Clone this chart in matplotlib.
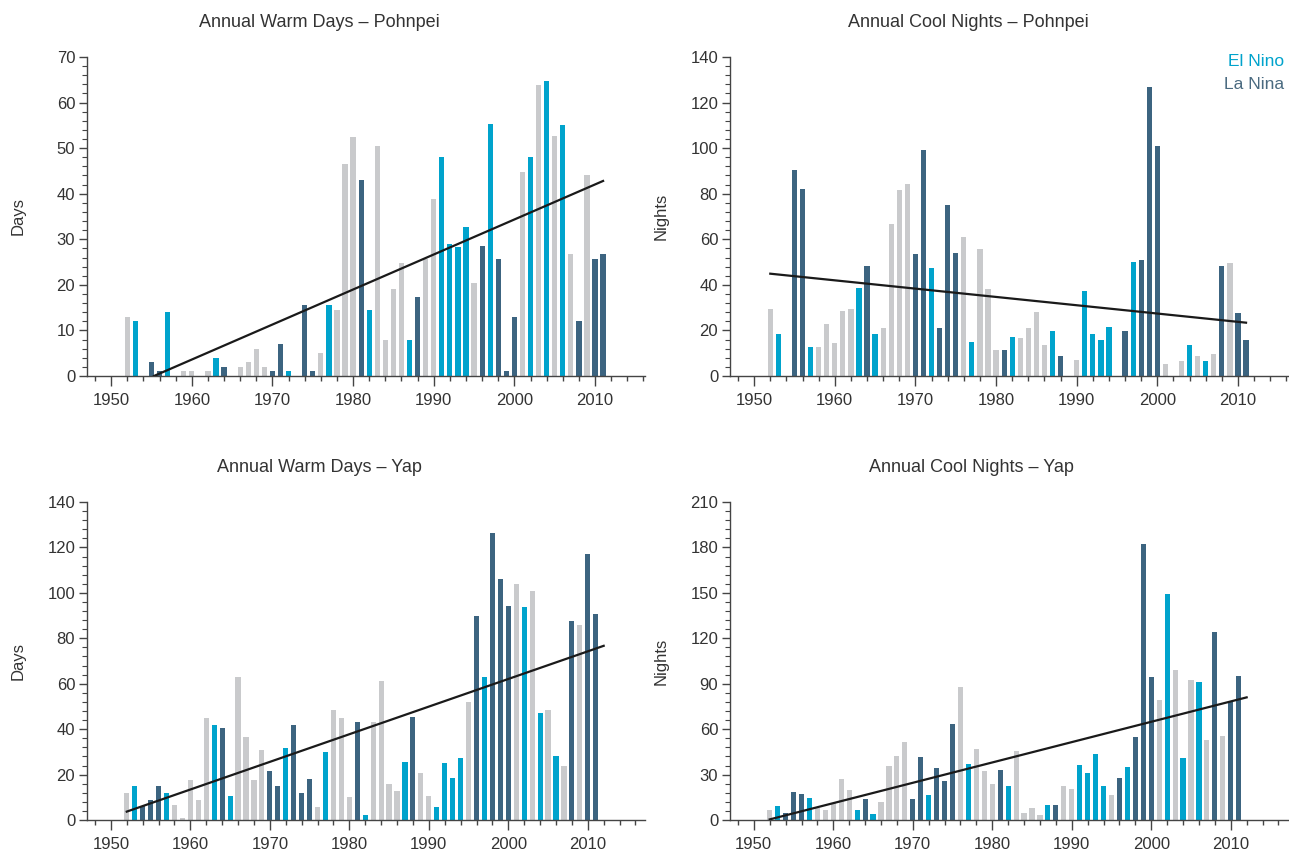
import matplotlib
matplotlib.use("Agg")
import matplotlib.pyplot as plt
from matplotlib.ticker import MultipleLocator
import numpy as np

plt.rcParams['font.family'] = ['Liberation Sans', 'DejaVu Sans']

years = list(range(1951, 2012))

# N = neutral, E = El Nino, L = La Nina
enso = ("N N E L L L E N N N N N E L E N N N N L L E L L L N E N N N "
        "L E N N N N E L N N E E E E N L E L L L N E N E N E N L N L L").split()

warm_pohnpei = [0, 13, 12, 0, 3, 1, 14, 0, 1, 1, 0, 1, 4, 2, 0, 2, 3, 6, 2, 1,
                7, 1, 0, 15.5, 1, 5, 15.5, 14.5, 46.5, 52.5, 43, 14.5, 50.5, 8, 19, 24.7, 8, 17.3, 25.6, 38.8,
                48, 29, 28.2, 32.6, 20.3, 28.5, 55.3, 25.6, 1, 13, 44.8, 48, 63.8, 64.8, 52.6, 55, 26.8, 12, 44, 25.7,
                26.8]

cool_pohnpei = [0, 29.6, 18.6, 0, 90.3, 82.2, 12.7, 12.7, 22.7, 14.6, 28.5, 29.6, 38.5, 48.3, 18.6, 20.9, 66.9, 81.5, 84.4, 53.4,
                99.2, 47.5, 21.2, 75.1, 53.8, 61, 14.9, 55.6, 38, 11.3, 11.6, 17.1, 16.8, 21.2, 28.1, 13.5, 19.8, 8.6, 0, 6.9,
                37.3, 18.3, 15.7, 21.5, 0, 19.8, 50, 51.1, 126.9, 100.8, 5.4, 0, 6.6, 13.5, 8.8, 6.6, 9.5, 48.3, 49.7, 27.5,
                15.8]

warm_yap = [0, 11.7, 14.8, 6.3, 8.8, 14.8, 11.7, 6.7, 0.7, 17.6, 8.8, 44.8, 41.8, 40.5, 10.7, 62.8, 36.4, 17.6, 30.8, 21.7,
            14.8, 31.5, 41.8, 11.7, 18, 5.6, 29.8, 48.6, 44.8, 10, 43.3, 2.3, 43, 61, 15.8, 12.9, 25.7, 45.2, 20.7, 10.6,
            5.7, 25.1, 18.3, 27.1, 52, 89.9, 62.8, 126.3, 106.3, 94.1, 103.8, 93.8, 100.9, 46.9, 48.3, 28, 24, 87.7, 85.8, 117.1,
            90.7]

cool_yap = [0, 6.6, 9.3, 4.9, 18.8, 17, 14.8, 7.7, 6.6, 11.5, 27.2, 19.9, 6.6, 13.7, 3.8, 11.7, 36, 42.4, 51.4, 13.7,
            41.5, 16.6, 34.2, 26, 63.6, 87.9, 36.9, 46.8, 32.5, 23.6, 33.1, 22.5, 45.9, 4.4, 8.2, 3.3, 9.9, 9.9, 22.5, 20.3,
            36.4, 31.3, 43.7, 22.5, 16.6, 28, 34.9, 54.8, 182.6, 94.3, 79, 149.5, 99.4, 40.8, 92.3, 91.2, 53, 124.3, 55.6, 77.7,
            94.9]

# trend lines: (year start, value start, year end, value end)
trend_warm_pohnpei = (1955.3, 0, 2011, 42.8)
trend_cool_pohnpei = (1952, 44.9, 2011, 23.4)
trend_warm_yap = (1952, 3.7, 2012, 76.7)
trend_cool_yap = (1952, 0.4, 2012, 81)

colors = {"N": "#c9cacc", "E": "#00a3cc", "L": "#3c6480"}
txt = "#333333"

fig = plt.figure(figsize=(12.89, 8.61), dpi=100)

W = 0.4329
panels = [
    ([0.0675, 0.5633, W, 0.3705], warm_pohnpei, trend_warm_pohnpei, 70, 10, 2016.2,
     "Annual Warm Days \u2013 Pohnpei", (0.2475, 0.9738), "Days", (0.014, 0.749)),
    ([0.5663, 0.5633, W, 0.3705], cool_pohnpei, trend_cool_pohnpei, 140, 20, 2016.2,
     "Annual Cool Nights \u2013 Pohnpei", (0.751, 0.9738), "Nights", (0.513, 0.749)),
    ([0.0675, 0.0476, W, 0.3693], warm_yap, trend_warm_yap, 140, 20, 2017.2,
     "Annual Warm Days \u2013 Yap", (0.248, 0.4570), "Days", (0.014, 0.232)),
    ([0.5663, 0.0476, W, 0.3693], cool_yap, trend_cool_yap, 210, 30, 2017.2,
     "Annual Cool Nights \u2013 Yap", (0.754, 0.4570), "Nights", (0.513, 0.232)),
]

for rect, vals, trend, ymax, ystep, xmax, title, tpos, ylab, lpos in panels:
    ax = fig.add_axes(rect)
    ax.bar(years, vals, width=0.65, color=[colors[e] for e in enso], zorder=2)
    ax.plot([trend[0], trend[2]], [trend[1], trend[3]], color="#1a1a1a", lw=1.6, zorder=3)
    ax.set_xlim(1947, xmax)
    ax.set_ylim(0, ymax)
    ax.xaxis.set_major_locator(MultipleLocator(10))
    ax.xaxis.set_minor_locator(MultipleLocator(2))
    ax.yaxis.set_major_locator(MultipleLocator(ystep))
    ax.yaxis.set_minor_locator(MultipleLocator(ystep / 5))
    for s in ["top", "right"]:
        ax.spines[s].set_visible(False)
    for s in ["left", "bottom"]:
        ax.spines[s].set_color("#444444")
        ax.spines[s].set_linewidth(1.0)
    ax.tick_params(axis="x", which="major", length=7, width=1, color="#444444",
                   labelsize=12, labelcolor=txt, pad=5)
    ax.tick_params(axis="x", which="minor", length=3.6, width=1, color="#444444")
    ax.tick_params(axis="y", which="major", length=5.5, width=1, color="#444444",
                   labelsize=12, labelcolor=txt, pad=3)
    ax.tick_params(axis="y", which="minor", length=3.5, width=0.8, color="#444444")
    fig.text(tpos[0], tpos[1], title, ha="center", va="center", fontsize=13, color=txt)
    fig.text(lpos[0], lpos[1], ylab, ha="center", va="center", rotation=90, fontsize=12, color=txt)

fig.text(0.996, 0.928, "El Nino", ha="right", va="center", fontsize=12.5, color=colors["E"])
fig.text(0.996, 0.902, "La Nina", ha="right", va="center", fontsize=12.5, color="#4a6a80")

fig.savefig("out.png", dpi=100)
